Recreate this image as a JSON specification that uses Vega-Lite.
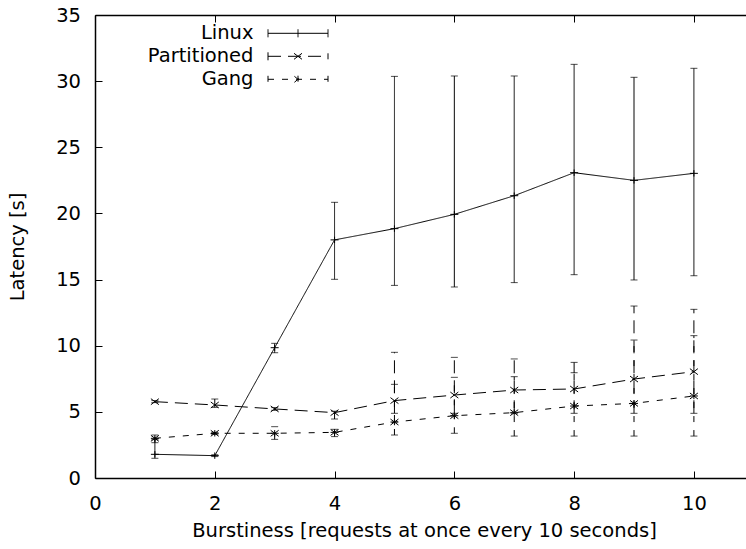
{
  "$schema": "https://vega.github.io/schema/vega-lite/v6.json",
  "width": 651,
  "height": 463,
  "autosize": "none",
  "padding": {"left": 95, "top": 15, "right": 0, "bottom": 71},
  "background": "white",
  "config": {
    "view": {"stroke": null},
    "font": "DejaVu Sans",
    "axis": {
      "labelFont": "DejaVu Sans",
      "labelFontSize": 19.5,
      "labelColor": "black",
      "titleFont": "DejaVu Sans",
      "titleFontSize": 19.5,
      "titleFontWeight": "normal",
      "titleColor": "black",
      "domainColor": "black",
      "domainWidth": 1.5,
      "tickColor": "black",
      "tickWidth": 1,
      "grid": false
    },
    "legend": {
      "labelFont": "DejaVu Sans",
      "labelFontSize": 19.5,
      "labelColor": "black"
    }
  },
  "data": {
    "values": [
      {"series": "Linux", "x": 1, "y": 1.79, "lo": 1.49, "hi": 2.9},
      {"series": "Linux", "x": 2, "y": 1.69, "lo": 1.62, "hi": 1.76},
      {"series": "Linux", "x": 3, "y": 9.85, "lo": 9.47, "hi": 10.18},
      {"series": "Linux", "x": 4, "y": 18.0, "lo": 15.02, "hi": 20.84},
      {"series": "Linux", "x": 5, "y": 18.85, "lo": 14.56, "hi": 30.36},
      {"series": "Linux", "x": 6, "y": 19.93, "lo": 14.44, "hi": 30.39},
      {"series": "Linux", "x": 7, "y": 21.34, "lo": 14.77, "hi": 30.39},
      {"series": "Linux", "x": 8, "y": 23.08, "lo": 15.37, "hi": 31.27},
      {"series": "Linux", "x": 9, "y": 22.5, "lo": 14.97, "hi": 30.29},
      {"series": "Linux", "x": 10, "y": 23.03, "lo": 15.29, "hi": 30.97},
      {"series": "Partitioned", "x": 1, "y": 5.77, "lo": 5.7, "hi": 5.85},
      {"series": "Partitioned", "x": 2, "y": 5.52, "lo": 5.34, "hi": 5.97},
      {"series": "Partitioned", "x": 3, "y": 5.22, "lo": 5.12, "hi": 5.32},
      {"series": "Partitioned", "x": 4, "y": 4.94, "lo": 4.46, "hi": 5.05},
      {"series": "Partitioned", "x": 5, "y": 5.85, "lo": 4.89, "hi": 9.5},
      {"series": "Partitioned", "x": 6, "y": 6.27, "lo": 4.89, "hi": 9.12},
      {"series": "Partitioned", "x": 7, "y": 6.65, "lo": 4.89, "hi": 9.0},
      {"series": "Partitioned", "x": 8, "y": 6.73, "lo": 4.89, "hi": 8.74},
      {"series": "Partitioned", "x": 9, "y": 7.48, "lo": 4.89, "hi": 13.0},
      {"series": "Partitioned", "x": 10, "y": 8.04, "lo": 4.89, "hi": 12.75},
      {"series": "Gang", "x": 1, "y": 3.0, "lo": 2.67, "hi": 3.25},
      {"series": "Gang", "x": 2, "y": 3.38, "lo": 3.3, "hi": 3.45},
      {"series": "Gang", "x": 3, "y": 3.38, "lo": 2.92, "hi": 3.88},
      {"series": "Gang", "x": 4, "y": 3.45, "lo": 3.13, "hi": 3.68},
      {"series": "Gang", "x": 5, "y": 4.23, "lo": 3.25, "hi": 7.08},
      {"series": "Gang", "x": 6, "y": 4.71, "lo": 3.38, "hi": 7.61},
      {"series": "Gang", "x": 7, "y": 4.94, "lo": 3.17, "hi": 7.66},
      {"series": "Gang", "x": 8, "y": 5.44, "lo": 3.17, "hi": 7.96},
      {"series": "Gang", "x": 9, "y": 5.64, "lo": 3.17, "hi": 10.43},
      {"series": "Gang", "x": 10, "y": 6.2, "lo": 3.17, "hi": 10.76}
    ]
  },
  "resolve": {"axis": {"x": "independent"}},
  "layer": [
    {
      "mark": {"type": "line", "color": "black", "strokeWidth": 1},
      "encoding": {
        "x": {
          "field": "x", "type": "quantitative",
          "scale": {"domain": [0, 10.87], "nice": false, "zero": false},
          "axis": {
            "orient": "bottom",
            "values": [0, 2, 4, 6, 8, 10],
            "tickSize": -7,
            "labelPadding": 23,
            "labelFlush": false,
            "title": "Burstiness [requests at once every 10 seconds]",
            "titleX": 329,
            "titleY": 58.7,
            "titleAlign": "center",
            "titleBaseline": "alphabetic"
          }
        },
        "y": {
          "field": "y", "type": "quantitative",
          "scale": {"domain": [0, 35], "nice": false},
          "axis": {
            "values": [0, 5, 10, 15, 20, 25, 30, 35],
            "tickSize": -7,
            "labelPadding": 21.5,
            "labelFlush": false,
            "title": "Latency [s]",
            "titleX": -71.5,
            "titleY": 231.5,
            "titleAngle": -90,
            "titleAlign": "center",
            "titleBaseline": "alphabetic"
          }
        },
        "strokeDash": {
          "field": "series", "type": "nominal",
          "scale": {"domain": ["Linux", "Partitioned", "Gang"], "range": [[1, 0], [13, 7], [6, 8]]},
          "legend": {
            "orient": "none",
            "legendX": 192.5,
            "legendY": 7.8,
            "title": null,
            "padding": 0,
            "offset": 0,
            "symbolSize": 400,
            "symbolOpacity": 1,
            "rowPadding": 3,
            "labelAlign": "right",
            "labelBaseline": "middle",
            "labelOffset": -55,
            "symbolStrokeColor": "black",
            "symbolFillColor": "transparent",
            "symbolStrokeWidth": 1
          }
        }
      }
    },
    {
      "mark": {"type": "rule", "color": "black", "strokeWidth": 1},
      "encoding": {
        "x": {"field": "x", "type": "quantitative", "axis": null},
        "y": {"field": "lo", "type": "quantitative"},
        "y2": {"field": "hi"},
        "strokeDash": {"field": "series", "type": "nominal", "legend": null}
      }
    },
    {
      "mark": {"type": "tick", "orient": "horizontal", "color": "black", "size": 7, "thickness": 1},
      "encoding": {
        "x": {"field": "x", "type": "quantitative", "axis": null},
        "y": {"field": "lo", "type": "quantitative"}
      }
    },
    {
      "mark": {"type": "tick", "orient": "horizontal", "color": "black", "size": 7, "thickness": 1},
      "encoding": {
        "x": {"field": "x", "type": "quantitative", "axis": null},
        "y": {"field": "hi", "type": "quantitative"}
      }
    },
    {
      "transform": [{"filter": {"field": "series", "equal": "Linux"}}],
      "mark": {"type": "point", "filled": false, "color": "black", "strokeWidth": 1, "size": 64, "opacity": 1, "shape": "M-1,0L1,0M0,-0.8L0,0.8"},
      "encoding": {
        "x": {
          "field": "x", "type": "quantitative",
          "axis": {
            "orient": "top",
            "values": [0, 2, 4, 6, 8, 10],
            "tickSize": -7,
            "labels": false,
            "title": null
          }
        },
        "y": {"field": "y", "type": "quantitative"}
      }
    },
    {
      "transform": [{"filter": {"field": "series", "equal": "Partitioned"}}],
      "mark": {"type": "point", "filled": false, "color": "black", "strokeWidth": 1, "size": 64, "opacity": 1, "shape": "M-1,-0.75L1,0.75M-1,0.75L1,-0.75"},
      "encoding": {
        "x": {"field": "x", "type": "quantitative", "axis": null},
        "y": {"field": "y", "type": "quantitative"}
      }
    },
    {
      "transform": [{"filter": {"field": "series", "equal": "Gang"}}],
      "mark": {"type": "point", "filled": false, "color": "black", "strokeWidth": 1, "size": 64, "opacity": 1, "shape": "M-1,0L1,0M0,-0.8L0,0.8M-1,-0.75L1,0.75M-1,0.75L1,-0.75"},
      "encoding": {
        "x": {"field": "x", "type": "quantitative", "axis": null},
        "y": {"field": "y", "type": "quantitative"}
      }
    },
    {
      "mark": {"type": "point", "filled": false, "color": "black", "strokeWidth": 1, "size": 0, "opacity": 1},
      "encoding": {
        "x": {"field": "x", "type": "quantitative", "axis": null},
        "y": {"field": "y", "type": "quantitative"},
        "shape": {
          "field": "series", "type": "nominal",
          "scale": {
            "domain": ["Linux", "Partitioned", "Gang"],
            "range": [
              "M-3,0L3,0M-3,-0.4L-3,0.4M3,-0.4L3,0.4M0,-0.4L0,0.4",
              "M-3,0L3,0M-3,-0.4L-3,0.4M3,-0.3L3,0.3M-0.4,-0.3L0.4,0.3M-0.4,0.3L0.4,-0.3",
              "M-3,0L3,0M-3,-0.35L-3,0.35M3,-0.35L3,0.35M0,-0.36L0,0.36M-0.36,-0.3L0.36,0.3M-0.36,0.3L0.36,-0.3"
            ]
          },
          "legend": null
        }
      }
    }
  ]
}
